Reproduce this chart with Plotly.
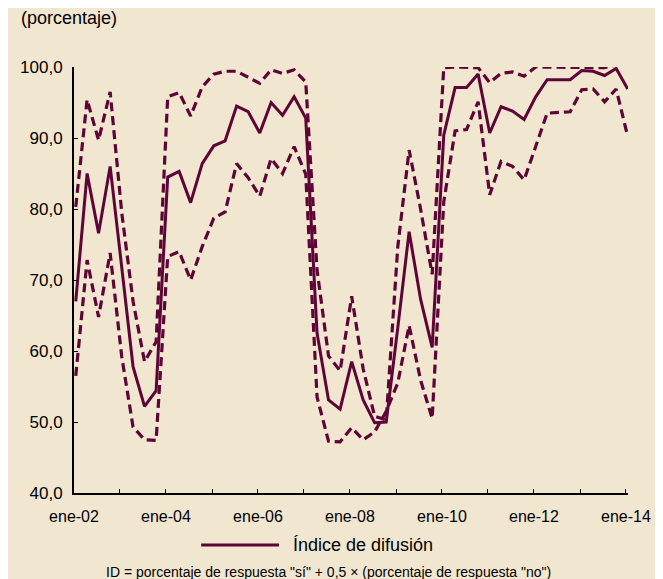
import pandas as pd
import plotly.graph_objects as go

# quarterly observations, 2002-I to 2014-I
quarters = pd.date_range("2002-01-01", periods=49, freq="QS") + pd.Timedelta(days=14)

indice = [67.0, 85.0, 76.6, 86.0, 71.8, 57.8, 52.2, 54.4,
          84.5, 85.3, 80.9, 86.4, 88.9, 89.6, 94.5, 93.7,
          90.7, 95.0, 93.2, 95.8, 92.8, 62.5, 53.1, 51.8,
          58.5, 53.1, 49.9, 50.0, 63.3, 76.8, 67.3, 60.5,
          90.4, 97.1, 97.1, 99.0, 90.7, 94.4, 93.8, 92.6,
          95.8, 98.2, 98.2, 98.2, 99.5, 99.4, 98.8, 99.8, 96.9]

banda_sup = [80.3, 95.4, 89.7, 96.5, 79.5, 67.0, 58.5, 61.3,
             95.8, 96.4, 93.1, 97.2, 99.0, 99.4, 99.4, 98.6,
             97.7, 99.6, 99.1, 99.6, 97.9, 71.4, 59.3, 57.2,
             67.7, 57.5, 50.8, 50.3, 74.7, 88.3, 80.0, 70.8,
             99.9, 100.0, 100.0, 99.9, 97.8, 99.1, 99.3, 98.7,
             100.0, 100.0, 100.0, 100.0, 100.0, 99.9, 99.9, 100.3, 100.3]

banda_inf = [56.5, 72.8, 64.8, 73.8, 59.2, 49.3, 47.5, 47.4,
             73.3, 74.0, 70.0, 74.7, 78.7, 79.6, 86.4, 84.4,
             81.8, 87.1, 85.0, 88.8, 84.9, 53.5, 47.3, 47.2,
             49.2, 47.5, 48.6, 51.5, 55.5, 63.6, 55.9, 50.5,
             81.0, 91.0, 91.2, 95.1, 82.0, 86.7, 86.0, 84.1,
             88.8, 93.5, 93.6, 93.7, 96.8, 96.9, 95.1, 96.9, 90.2]

year_ticks = pd.date_range("2002-01-01", "2014-01-01", freq="YS")
year_labels = ["ene-02", "", "ene-04", "", "ene-06", "", "ene-08", "",
               "ene-10", "", "ene-12", "", "ene-14"]
y_ticks = [40, 50, 60, 70, 80, 90, 100]

title_text = "(porcentaje)"
legend_text = "Índice de difusión"
note_text = "ID = porcentaje de respuesta \"sí\" + 0,5 × (porcentaje de respuesta \"no\")"

COL = "#5e0538"
BG = "#f1e6d0"
FONT = "Liberation Sans, Arial, sans-serif"

fig = go.Figure()
for vals in (banda_sup, banda_inf):
    fig.add_trace(go.Scatter(x=quarters, y=vals, mode="lines",
                             line=dict(color=COL, width=3.2, dash="9px,5px"),
                             showlegend=False, hoverinfo="skip", cliponaxis=False))
fig.add_trace(go.Scatter(x=quarters, y=indice, mode="lines",
                         line=dict(color=COL, width=3),
                         name=legend_text, showlegend=False, cliponaxis=False))

# the page body has an 8px margin, so the figure is drawn at (8, 8)
OFF = 8
W, H = 663 - OFF, 579 - OFF
L, R, T, B = 68 - OFF, 33, 67 - OFF, 86
pw, ph = W - L - R, H - T - B


def px(x):
    return (x - OFF - L) / pw


def py(y):
    return (H - B - (y - OFF)) / ph


fig.update_layout(
    width=W, height=H,
    margin=dict(l=L, r=R, t=T, b=B),
    paper_bgcolor=BG, plot_bgcolor=BG,
    separators=",.",
    font=dict(family=FONT, color="black"),
    xaxis=dict(range=["2002-01-01", "2014-01-17"], showgrid=False, zeroline=False,
               showline=True, linecolor="black", linewidth=2,
               ticks="inside", ticklen=4, tickwidth=1, tickcolor="black",
               tickvals=year_ticks, ticktext=year_labels,
               tickfont=dict(family=FONT, size=16), ticklabelstandoff=8),
    yaxis=dict(range=[40, 100], showgrid=False, zeroline=False,
               showline=True, linecolor="black", linewidth=2,
               ticks="inside", ticklen=4, tickwidth=1, tickcolor="black",
               tickvals=y_ticks, tickformat=".1f",
               tickfont=dict(family=FONT, size=17), ticklabelstandoff=6),
    showlegend=False,
)

fig.add_annotation(xref="paper", yref="paper", x=px(12), y=py(18), text=title_text,
                   showarrow=False, xanchor="left", yanchor="middle",
                   font=dict(family=FONT, size=18))
fig.add_shape(type="line", xref="paper", yref="paper",
              x0=px(197), x1=px(276), y0=py(545), y1=py(545),
              line=dict(color=COL, width=3))
fig.add_annotation(xref="paper", yref="paper", x=px(288), y=py(545), text=legend_text,
                   showarrow=False, xanchor="left", yanchor="middle",
                   font=dict(family=FONT, size=18))
fig.add_annotation(xref="paper", yref="paper", x=px(326), y=py(572), text=note_text,
                   showarrow=False, xanchor="center", yanchor="middle",
                   font=dict(family=FONT, size=14))

fig.write_html("out.html")
